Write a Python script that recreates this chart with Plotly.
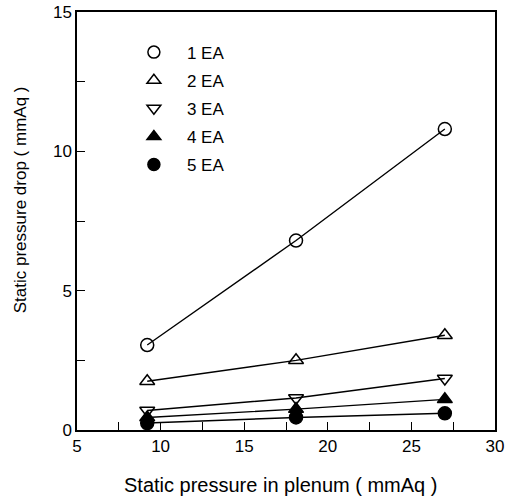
import plotly.graph_objects as go

x_plenum = [9.2, 18.1, 27.0]
drop_1ea = [3.05, 6.8, 10.8]
drop_2ea = [1.75, 2.5, 3.4]
drop_3ea = [0.7, 1.15, 1.85]
drop_4ea = [0.45, 0.75, 1.1]
drop_5ea = [0.25, 0.45, 0.6]

series = [
    ("1 EA", drop_1ea, "circle-open"),
    ("2 EA", drop_2ea, "triangle-up-open"),
    ("3 EA", drop_3ea, "triangle-down-open"),
    ("4 EA", drop_4ea, "triangle-up"),
    ("5 EA", drop_5ea, "circle"),
]

fig = go.Figure()
for i, (name, ys, sym) in enumerate(series):
    fig.add_trace(go.Scatter(
        x=x_plenum, y=ys, name=name, mode="lines+markers",
        line=dict(color="black", width=1.4),
        marker=dict(symbol=sym, size=13, color="black",
                    line=dict(color="black", width=1.5)),
        showlegend=False,
    ))
# legend entries (markers only)
for i, (name, ys, sym) in enumerate(series):
    fig.add_trace(go.Scatter(
        x=[None], y=[None], name=name, mode="markers",
        marker=dict(symbol=sym, size=12, color="black",
                    line=dict(color="black", width=1.5)),
        legendgroup=f"g{i}", showlegend=True,
    ))

font = "Liberation Sans, Arial, sans-serif"
fig.update_layout(
    width=514, height=503,
    margin=dict(l=77, r=19, t=12, b=73, autoexpand=False),
    paper_bgcolor="white", plot_bgcolor="white",
    font=dict(family=font, size=17, color="black"),
    showlegend=True,
    legend=dict(x=0.105, y=0.946, xanchor="left", yanchor="top",
                bgcolor="rgba(0,0,0,0)", font=dict(size=17, color="black"),
                tracegroupgap=3, traceorder="grouped", itemwidth=56),
    xaxis=dict(range=[5, 30], dtick=5, showgrid=False, zeroline=False,
               showline=True, linecolor="black", linewidth=1.5, mirror=True,
               ticks="inside", ticklen=8, tickwidth=1.2, tickcolor="black",
               tickfont=dict(size=17, color="black"),
               minor=dict(dtick=2.5, ticks="inside", ticklen=8, tickcolor="black")),
    yaxis=dict(range=[0, 15], dtick=5, showgrid=False, zeroline=False,
               showline=True, linecolor="black", linewidth=1.5, mirror=True,
               ticks="inside", ticklen=8, tickwidth=1.2, tickcolor="black",
               tickfont=dict(size=17, color="black"),
               minor=dict(dtick=2.5, ticks="inside", ticklen=8, tickcolor="black")),
    annotations=[
        dict(text="Static pressure drop ( mmAq )", textangle=-90,
             xref="paper", yref="paper", x=-0.136, y=0.55,
             xanchor="center", yanchor="middle", showarrow=False,
             font=dict(size=17, color="black")),
        dict(text="Static pressure in plenum ( mmAq )",
             xref="paper", yref="paper", x=0.488, y=-0.1316,
             xanchor="center", yanchor="middle", showarrow=False,
             font=dict(size=20, color="black")),
    ],
)

fig.write_html("out.html")
